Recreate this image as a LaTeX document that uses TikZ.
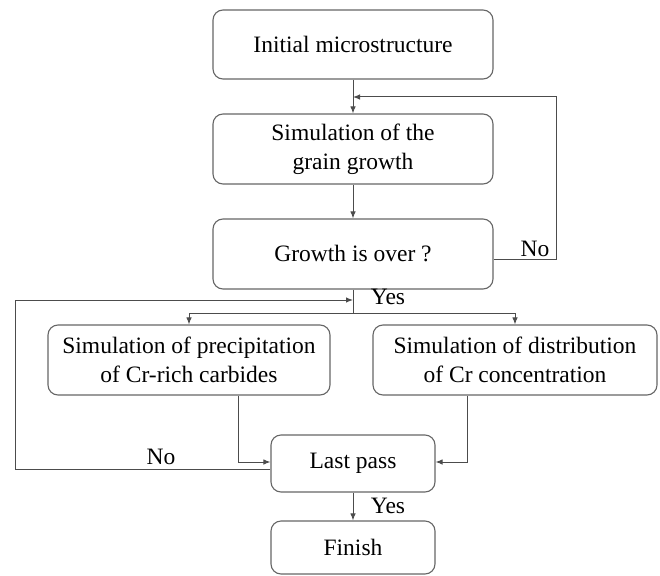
\documentclass[tikz,border=0pt]{standalone}
\usepackage{fontspec}
\setmainfont{Liberation Serif}
\usepackage{tikz}
\usetikzlibrary{arrows.meta}

\begin{document}
\begin{tikzpicture}[x=1pt,y=-1pt,>={Latex[length=7pt,width=5.5pt]},
    stage/.style={rectangle, rounded corners=10pt, draw=black!60, line width=1.1pt,
      align=center, inner sep=0pt, font=\fontsize{23.5}{29}\selectfont},
    flow/.style={draw=black!70, line width=1pt},
    tag/.style={font=\fontsize{23.5}{29}\selectfont, inner sep=0pt}]
    \useasboundingbox (0,0) rectangle (660,575);

    \node [stage, minimum width=280pt, minimum height=69pt] (init) at (353,44.5) {Initial microstructure};
    \node [stage, minimum width=280pt, minimum height=70pt] (grow) at (353,149) {Simulation of the\\grain growth};
    \node [stage, minimum width=280pt, minimum height=70pt] (over) at (353,254) {Growth is over ?};
    \node [stage, minimum width=282pt, minimum height=70pt] (precip) at (189,360) {Simulation of precipitation\\of Cr-rich carbides};
    \node [stage, minimum width=284pt, minimum height=70pt] (distr) at (515,360) {Simulation of distribution\\of Cr concentration};
    \node [stage, minimum width=164pt, minimum height=57pt] (last) at (353,463.5) {Last pass};
    \node [stage, minimum width=164pt, minimum height=53pt] (finish) at (353,547.5) {Finish};

    \coordinate (fbk) at (353,97);
    \coordinate (loop) at (353,300);
    \coordinate (split) at (353,313);

    \draw [flow,->] (init) -- (grow);
    \draw [flow,->] (grow) -- (over);
    \draw [flow,->] ([yshift=-5pt]over.east) -- ++(63,0) |- (fbk);
    \draw [flow] (over) -- (split);
    \draw [flow,->] (split) -| (precip.north);
    \draw [flow,->] (split) -| (distr.north);
    \draw [flow,->] ([yshift=-5.5pt]last.west) -- (15,469) |- (loop);
    \draw [flow,->] ([xshift=49pt]precip.south) |- ([yshift=1.5pt]last.west);
    \draw [flow,->] ([xshift=-48pt]distr.south) |- ([yshift=1.5pt]last.east);
    \draw [flow,->] (last) -- (finish);

    \node [tag] (no1) at (535,249) {No};
    \node [tag] (yes1) at (388,297) {Yes};
    \node [tag] (no2) at (161,457) {No};
    \node [tag] (yes2) at (388,506) {Yes};
\end{tikzpicture}
\end{document}
